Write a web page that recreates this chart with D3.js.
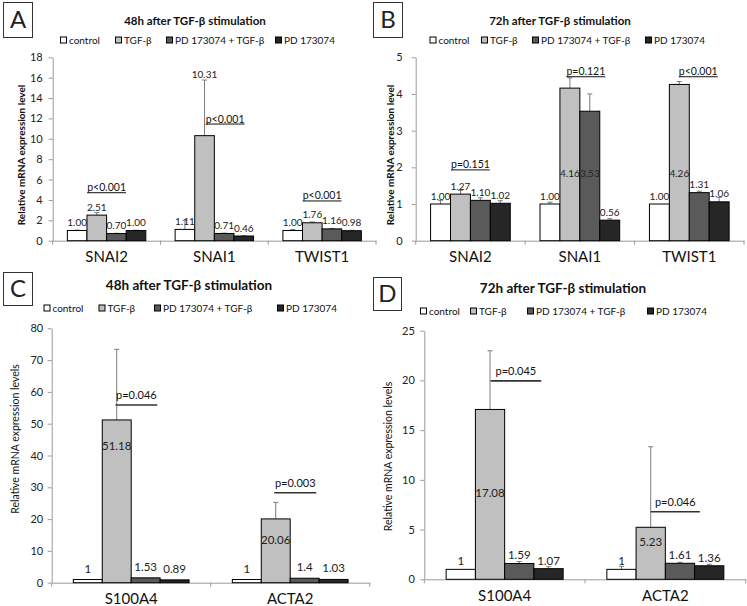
<!DOCTYPE html>
<html>
<head>
<meta charset="utf-8">
<script src="https://cdn.jsdelivr.net/npm/d3@7"></script>
<style>
  body { margin: 0; background: #fff; }
  svg { display: block; font-family: Lato, "Open Sans", sans-serif; }
</style>
</head>
<body>
<svg width="747" height="606"></svg>
<script>
// series shared by all four panels
let seriesNames = ['control', 'TGF-β', 'PD 173074 + TGF-β', 'PD 173074'];
let seriesFill = ['#ffffff', '#c0c0c0', '#5a5a5a', '#262626'];

let emtGenes = ['SNAI2', 'SNAI1', 'TWIST1'];
let fibroGenes = ['S100A4', 'ACTA2'];

// values[gene][series], errors are the upper half of the error bar
let valuesA = [[1.00, 2.51, 0.70, 1.00], [1.11, 10.31, 0.71, 0.46], [1.00, 1.76, 1.16, 0.98]];
let errorsA = [[0.04, 0.25, 0.03, 0.03], [0.9, 5.46, 0.03, 0.03], [0.1, 0.08, 0.04, 0.04]];
let pTextA = ['p<0.001', 'p<0.001', 'p<0.001'];
let pLevelA = [4.71, 11.45, 3.9];
let ticksA = [0, 2, 4, 6, 8, 10, 12, 14, 16, 18];

let valuesB = [[1.00, 1.27, 1.10, 1.02], [1.00, 4.16, 3.53, 0.56], [1.00, 4.26, 1.31, 1.06]];
let errorsB = [[0.1, 0.1, 0.07, 0.07], [0.05, 0.28, 0.47, 0.04], [0, 0.08, 0.04, 0.12]];
let pTextB = ['p=0.151', 'p=0.121', 'p<0.001'];
let pLevelB = [1.93, 4.47, 4.47];
let ticksB = [0, 1, 2, 3, 4, 5];

let valuesC = [[1, 51.18, 1.53, 0.89], [1, 20.06, 1.4, 1.03]];
let errorsC = [[0, 22.2, 0, 0], [0, 5.2, 0, 0]];
let pTextC = ['p=0.046', 'p=0.003'];
let pLevelC = [55.9, 28.3];
let ticksC = [0, 10, 20, 30, 40, 50, 60, 70, 80];

let valuesD = [[1, 17.08, 1.59, 1.07], [1, 5.23, 1.61, 1.36]];
let errorsD = [[0, 5.9, 0.2, 0.2], [0.3, 8.1, 0.1, 0.15]];
let pTextD = ['p=0.045', 'p=0.046'];
let pLevelD = [19.95, 6.8];
let ticksD = [0, 5, 10, 15, 20, 25];

let fixed2 = d => d.toFixed(2);
let plain = d => String(d);

// layout of each panel
let panels = [
  { letter: 'A', box: [3, 2, 29, 35], title: '48h after TGF-β stimulation', titleX: 195, titleY: 25, titleSize: 11.5,
    legendX: [60, 115, 166, 275], legendY: 40, x0: 52.7, x1: 376, yTop: 57.3, yBot: 240.7, ticks: ticksA, tickPad: 6,
    cats: emtGenes, values: valuesA, errors: errorsA, fmt: fixed2, labelSize: 10, labelGap: 4.5,
    labelAt: { '1,1': 16.36 },
    yLabel: 'Relative mRNA expression level', yLabelBold: true, yLabelX: 21, yLabelY: 155,
    catY: 262, pStyle: 'underline', pText: pTextA, pLevel: pLevelA, pPos: [2.0, 2.55, 2.0] },
  { letter: 'B', box: [373, 2, 29, 35], title: '72h after TGF-β stimulation', titleX: 560, titleY: 25, titleSize: 11.5,
    legendX: [429.5, 481, 532, 645], legendY: 40, x0: 415.7, x1: 744, yTop: 57.3, yBot: 240.7, ticks: ticksB, tickPad: 9,
    cats: emtGenes, values: valuesB, errors: errorsB, fmt: fixed2, labelSize: 10, labelGap: 4.5,
    labelAt: { '1,1': 1.84, '1,2': 1.84, '2,1': 1.84 },
    yLabel: 'Relative mRNA expression level', yLabelBold: true, yLabelX: 390, yLabelY: 155,
    catY: 262, pStyle: 'underline', pText: pTextB, pLevel: pLevelB, pPos: [2.0, 2.3, 2.45] },
  { letter: 'C', box: [3, 272, 29, 33], title: '48h after TGF-β stimulation', titleX: 189, titleY: 290, titleSize: 13.5,
    legendX: [43.5, 98.5, 154, 277], legendY: 308, x0: 51.7, x1: 369.7, yTop: 328.3, yBot: 582.7, ticks: ticksC, tickPad: 4.5,
    cats: fibroGenes, values: valuesC, errors: errorsC, fmt: plain, labelSize: 11.5, labelGap: 7,
    labelAt: { '0,1': 43.0, '1,1': 13.4 },
    yLabel: 'Relative mRNA expression levels', yLabelBold: false, yLabelX: 15, yLabelY: 439,
    catY: 604, pStyle: 'line', pText: pTextC, pLevel: pLevelC, pPos: [[1.46, 2.9], [1.45, 2.9]] },
  { letter: 'D', box: [373, 277, 28, 33], title: '72h after TGF-β stimulation', titleX: 563, titleY: 293, titleSize: 13.5,
    legendX: [420, 470, 527, 647], legendY: 311, x0: 424.3, x1: 745.7, yTop: 330.7, yBot: 579.3, ticks: ticksD, tickPad: 5.5,
    cats: fibroGenes, values: valuesD, errors: errorsD, fmt: plain, labelSize: 11.5, labelGap: 4,
    labelAt: { '0,1': 8.7, '1,1': 3.75 },
    yLabel: 'Relative mRNA expression levels', yLabelBold: false, yLabelX: 388, yLabelY: 456.5,
    catY: 601, pStyle: 'line', pText: pTextD, pLevel: pLevelD, pPos: [[1.52, 3.25], [1.5, 3.18]] }
];

let svg = d3.select('svg');

function drawPanel(p) {
  let g = svg.append('g');

  // letter in its box
  g.append('rect')
    .attr('x', p.box[0] + 0.5).attr('y', p.box[1] + 0.5)
    .attr('width', p.box[2]).attr('height', p.box[3])
    .attr('fill', 'none').attr('stroke', '#333');
  g.append('text')
    .attr('x', p.box[0] + p.box[2] / 2 + 0.5)
    .attr('y', p.box[1] + p.box[3] / 2 + 8.5)
    .attr('text-anchor', 'middle')
    .attr('font-size', 24).attr('fill', '#222')
    .text(p.letter);

  g.append('text')
    .attr('x', p.titleX).attr('y', p.titleY)
    .attr('text-anchor', 'middle')
    .attr('font-size', p.titleSize).attr('font-weight', 'bold').attr('fill', '#111')
    .text(p.title);

  // legend
  let leg = g.selectAll('.leg').data(seriesNames).enter().append('g')
    .attr('transform', (d, i) => `translate(${p.legendX[i]},${p.legendY})`);
  leg.append('rect')
    .attr('x', 0.5).attr('y', -3).attr('width', 6).attr('height', 6)
    .attr('fill', (d, i) => seriesFill[i]).attr('stroke', '#000');
  leg.append('text')
    .attr('x', 9).attr('y', 3.8)
    .attr('font-size', 10).attr('fill', '#111')
    .text(d => d);

  let y = d3.scaleLinear().domain([0, d3.max(p.ticks)]).range([p.yBot, p.yTop]);
  let x = d3.scaleBand().domain(p.cats).range([p.x0, p.x1]);
  let barW = x.bandwidth() * 0.182;
  let inner = d3.scaleBand().domain(d3.range(seriesNames.length))
    .range([(x.bandwidth() - 4 * barW) / 2, (x.bandwidth() + 4 * barW) / 2]);
  let pos = (cat, u) => x(cat) + inner(0) + u * barW;

  // y axis
  let yAxis = g.append('g')
    .attr('transform', `translate(${p.x0},0)`)
    .call(d3.axisLeft(y).tickValues(p.ticks).tickFormat(d3.format('d'))
      .tickSize(4).tickSizeOuter(0).tickPadding(p.tickPad));
  yAxis.select('.domain').attr('stroke', '#9a9a9a');
  yAxis.selectAll('line').attr('stroke', '#9a9a9a');
  yAxis.selectAll('text').attr('font-size', 11).attr('fill', '#222').attr('font-family', 'Lato, sans-serif');

  g.append('text')
    .attr('transform', `translate(${p.yLabelX},${p.yLabelY}) rotate(-90)`)
    .attr('text-anchor', 'middle').attr('dy', '0.35em')
    .attr('font-size', p.yLabelBold ? 10 : 10.5)
    .attr('font-weight', p.yLabelBold ? 'bold' : 'normal')
    .attr('fill', '#111')
    .text(p.yLabel);

  // x axis with category names
  let xAxis = g.append('g')
    .attr('transform', `translate(0,${p.yBot})`)
    .call(d3.axisBottom(x).tickSize(0).tickSizeOuter(0));
  xAxis.select('.domain').attr('stroke', '#9a9a9a');
  xAxis.selectAll('text')
    .attr('y', p.catY - p.yBot).attr('dy', 0)
    .attr('font-size', 15).attr('fill', '#111').attr('font-family', 'Lato, sans-serif');
  g.selectAll('.sep').data(d3.range(p.cats.length + 1)).enter().append('line')
    .attr('x1', i => p.x0 + i * x.bandwidth()).attr('x2', i => p.x0 + i * x.bandwidth())
    .attr('y1', p.yBot).attr('y2', p.yBot + 4)
    .attr('stroke', '#9a9a9a');

  let rows = [];
  p.cats.forEach((cat, ci) => {
    p.values[ci].forEach((v, si) => {
      rows.push({ cat: cat, ci: ci, si: si, v: v, e: p.errors[ci][si], at: p.labelAt[ci + ',' + si] });
    });
  });

  // error bars (upper half only)
  let err = g.selectAll('.err').data(rows.filter(d => d.e > 0)).enter().append('g');
  err.append('line')
    .attr('x1', d => pos(d.cat, d.si + 0.5)).attr('x2', d => pos(d.cat, d.si + 0.5))
    .attr('y1', d => y(d.v)).attr('y2', d => y(d.v + d.e))
    .attr('stroke', '#7a7a7a');
  err.append('line')
    .attr('x1', d => pos(d.cat, d.si + 0.5) - 2.5).attr('x2', d => pos(d.cat, d.si + 0.5) + 2.5)
    .attr('y1', d => y(d.v + d.e)).attr('y2', d => y(d.v + d.e))
    .attr('stroke', '#7a7a7a');

  g.selectAll('.bar').data(rows).enter().append('rect')
    .attr('x', d => pos(d.cat, d.si))
    .attr('y', d => y(d.v))
    .attr('width', barW)
    .attr('height', d => y(0) - y(d.v))
    .attr('fill', d => seriesFill[d.si])
    .attr('stroke', '#000').attr('stroke-width', 1);

  g.selectAll('.val').data(rows).enter().append('text')
    .attr('x', d => pos(d.cat, d.si + 0.5))
    .attr('y', d => d.at != null ? y(d.at) + p.labelSize * 0.35 : y(d.v) - p.labelGap)
    .attr('text-anchor', 'middle')
    .attr('font-size', p.labelSize).attr('fill', '#222')
    .text(d => p.fmt(d.v));

  // p-values
  p.pText.forEach((t, i) => {
    let cat = p.cats[i];
    let ly = y(p.pLevel[i]);
    if (p.pStyle === 'underline') {
      let cx = pos(cat, p.pPos[i]);
      let txt = g.append('text')
        .attr('x', cx).attr('y', ly - 1.5)
        .attr('text-anchor', 'middle')
        .attr('font-size', 10.5).attr('fill', '#111')
        .text(t);
      let w = txt.node().getComputedTextLength();
      g.append('line')
        .attr('x1', cx - w / 2).attr('x2', cx + w / 2)
        .attr('y1', ly).attr('y2', ly)
        .attr('stroke', '#111');
    } else {
      let xa = pos(cat, p.pPos[i][0]);
      let xb = pos(cat, p.pPos[i][1]);
      g.append('line')
        .attr('x1', xa).attr('x2', xb)
        .attr('y1', ly).attr('y2', ly)
        .attr('stroke', '#333').attr('stroke-width', 1.6);
      g.append('text')
        .attr('x', (xa + xb) / 2).attr('y', ly - 6)
        .attr('text-anchor', 'middle')
        .attr('font-size', 11).attr('fill', '#111')
        .text(t);
    }
  });
}

panels.forEach(drawPanel);
</script>
</body>
</html>
